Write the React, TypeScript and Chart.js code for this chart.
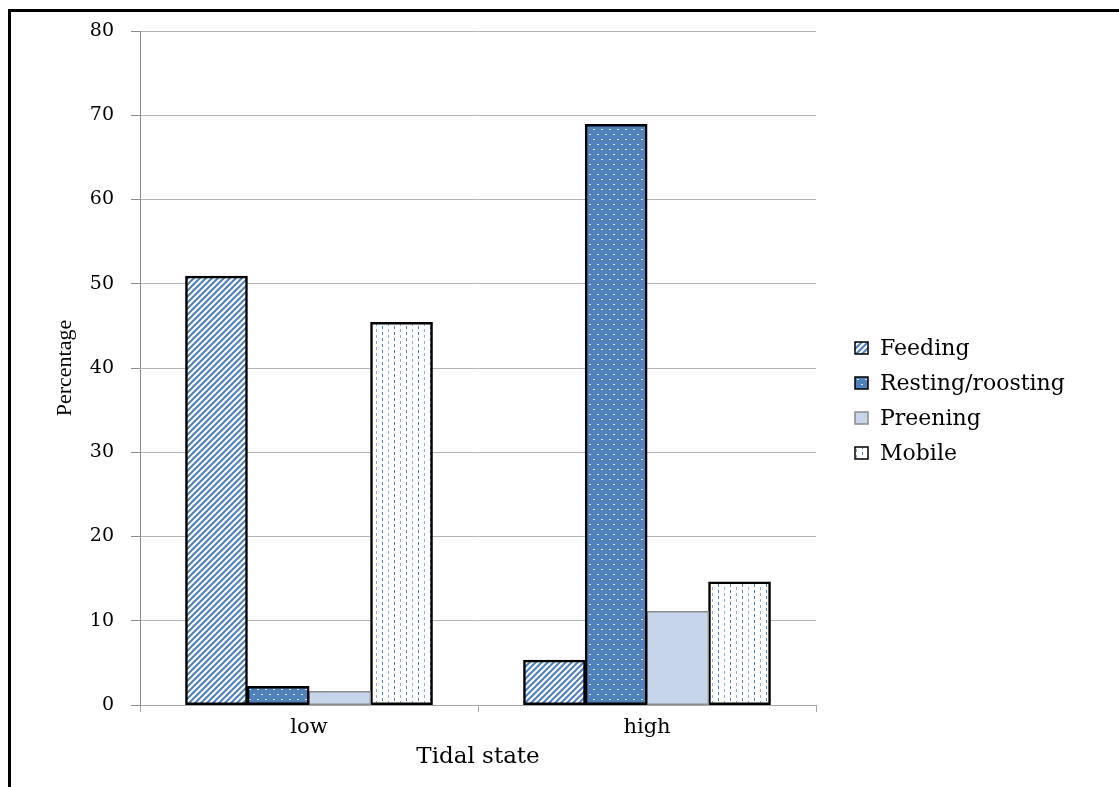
import React, { useEffect, useRef } from "react";
import { Chart, registerables } from "chart.js";

Chart.register(...registerables);

// ---- Data ----
const categories = ["low", "high"];
const seriesNames = ["Feeding", "Resting/roosting", "Preening", "Mobile"];
const feeding = [50.9, 5.3];
const resting = [2.2, 68.9];
const preening = [1.6, 11.1];
const mobile = [45.4, 14.6];
const yMin = 0;
const yMax = 80;
const yStep = 10;
const xTitle = "Tidal state";
const yTitle = "Percentage";

const BLUE = "#4F81BD";
const LIGHT = "#C6D5EA";
const SERIF = "'DejaVu Serif', serif";

function tile(w: number, h: number, draw: (c: CanvasRenderingContext2D) => void): CanvasPattern {
  const cv = document.createElement("canvas");
  cv.width = w;
  cv.height = h;
  const c = cv.getContext("2d")!;
  draw(c);
  return c.createPattern(cv, "repeat")!;
}

function stripePattern() {
  return tile(6, 6, (c) => {
    c.fillStyle = "#fff";
    c.fillRect(0, 0, 6, 6);
    c.strokeStyle = BLUE;
    c.lineWidth = 2.1;
    c.beginPath();
    c.moveTo(-1, 1); c.lineTo(1, -1);
    c.moveTo(0, 6); c.lineTo(6, 0);
    c.moveTo(5, 7); c.lineTo(7, 5);
    c.stroke();
  });
}

function dotPattern() {
  return tile(8, 10, (c) => {
    c.fillStyle = BLUE;
    c.fillRect(0, 0, 8, 10);
    c.fillStyle = "rgba(235,242,252,0.9)";
    c.fillRect(1, 1, 2, 1);
    c.fillRect(5, 6, 2, 1);
  });
}

function dashPattern() {
  return tile(12, 6, (c) => {
    c.fillStyle = "#fff";
    c.fillRect(0, 0, 12, 6);
    c.fillStyle = "#4F81BD";
    c.fillRect(2, 0, 1, 3);
    c.fillStyle = "#8DAEDA";
    c.fillRect(8, 3, 1, 3);
  });
}

const legendPlugin = {
  id: "sideLegend",
  afterDraw(chart: any) {
    const ctx: CanvasRenderingContext2D = chart.ctx;
    const area = chart.chartArea;
    const x0 = area.right + 39;
    const y0 = area.top + 317;
    const rowH = 35;
    chart.data.datasets.forEach((ds: any, i: number) => {
      const cy = y0 + i * rowH;
      ctx.save();
      ctx.fillStyle = ds.backgroundColor;
      ctx.fillRect(x0, cy - 6, 13, 12);
      ctx.strokeStyle = ds.borderColor;
      ctx.lineWidth = 1.5;
      ctx.strokeRect(x0, cy - 6, 13, 12);
      ctx.fillStyle = "#000";
      ctx.font = `22px ${SERIF}`;
      ctx.textBaseline = "middle";
      ctx.textAlign = "left";
      ctx.fillText(ds.label, x0 + 25, cy + 1);
      ctx.restore();
    });
  },
};

export default function App() {
  const ref = useRef<HTMLCanvasElement>(null);

  useEffect(() => {
    if (!ref.current) return;
    const seriesValues = [feeding, resting, preening, mobile];
    const fills = [stripePattern(), dotPattern(), LIGHT, dashPattern()];
    const borders = ["#000", "#000", "#8C8C8C", "#000"];
    const widths = [2.5, 2.5, 1.5, 2.5];
    const chart = new Chart(ref.current, {
      type: "bar",
      data: {
        labels: categories,
        datasets: seriesNames.map((name, i) => ({
          label: name,
          data: seriesValues[i],
          backgroundColor: fills[i] as any,
          borderColor: borders[i],
          borderWidth: widths[i],
          borderSkipped: false,
          inflateAmount: 0.5,
          categoryPercentage: 0.73,
          barPercentage: 1,
        })),
      },
      options: {
        responsive: false,
        animation: false,
        layout: { padding: { top: 23, right: 295, left: 0, bottom: 0 } },
        plugins: {
          legend: { display: false },
          tooltip: { enabled: false },
        },
        scales: {
          x: {
            grid: {
              display: true,
              drawOnChartArea: false,
              drawTicks: true,
              tickLength: 7,
              color: "#A6A6A6",
              offset: true,
            },
            border: { display: true, color: "#A6A6A6", width: 1 },
            ticks: { color: "#000", font: { family: SERIF, size: 21 }, padding: 3 },
            title: {
              display: true,
              text: xTitle,
              color: "#000",
              font: { family: SERIF, size: 23 },
              padding: { top: 0, bottom: 8 },
            },
            afterFit: (s: any) => { s.height = 74; },
          },
          y: {
            min: yMin,
            max: yMax,
            ticks: { stepSize: yStep, color: "#000", font: { family: SERIF, size: 19 }, padding: 17 },
            grid: { color: "#B3B3B3", tickLength: 9, tickColor: "#8C8C8C" },
            border: { display: true, color: "#8C8C8C" },
            title: {
              display: true,
              text: yTitle,
              color: "#000",
              font: { family: "'Liberation Serif', serif", size: 22 },
              padding: { top: 44, bottom: 0 },
            },
            afterFit: (s: any) => {
              s.width = 132;
              s.paddingTop = 0;
              s.paddingBottom = 0;
            },
          },
        },
      },
      plugins: [legendPlugin],
    });
    return () => chart.destroy();
  }, []);

  return (
    <div style={{ position: "relative" }}>
      <canvas ref={ref} width={1103} height={771} style={{ display: "block" }} />
      <div
        style={{
          position: "fixed",
          left: 8,
          top: 9,
          right: 0,
          bottom: 0,
          borderTop: "3px solid #000",
          borderLeft: "3px solid #000",
          pointerEvents: "none",
        }}
      />
    </div>
  );
}
